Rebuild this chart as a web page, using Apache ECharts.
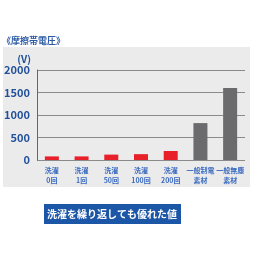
<!DOCTYPE html>
<html>
<head>
<meta charset="utf-8">
<script src="https://cdn.jsdelivr.net/npm/echarts@6/dist/echarts.min.js"></script>
<style>
  html, body { margin: 0; padding: 0; background: #fff; }
  #chart { width: 260px; height: 260px; }
</style>
</head>
<body>
<div id="chart"></div>
<script>
  const categories = ['洗濯\n0回', '洗濯\n1回', '洗濯\n50回', '洗濯\n100回', '洗濯\n200回', '一般制電\n素材', '一般無塵\n素材']
  const values = [80, 80, 120, 130, 200, 820, 1600]
  const barColors = ['#e8202a', '#e8202a', '#e8202a', '#e8202a', '#e8202a', '#6b6b6d', '#6b6b6d']
  const yTicks = [0, 500, 1000, 1500, 2000]

  const chart = echarts.init(document.getElementById('chart'))
  const font = '"Noto Sans CJK JP", "Noto Sans", sans-serif'

  const option = {
    animation: false,
    title: {
      text: '《摩擦帯電圧》',
      left: -3,
      top: 31,
      textStyle: { color: '#2b5aa6', fontSize: 9, fontWeight: 'bold', fontFamily: font }
    },
    graphic: [
      {
        type: 'rect', z: -10,
        shape: { x: 3, y: 47, width: 247, height: 140 },
        style: { fill: '#ebebec' }
      },
      {
        type: 'rect',
        shape: { x: 44, y: 204, width: 137, height: 20 },
        style: { fill: '#1c56a6' }
      },
      {
        type: 'text',
        x: 112, y: 214,
        style: {
          text: '洗濯を繰り返しても優れた値',
          fill: '#fff', font: 'bold 10px ' + font,
          align: 'center', verticalAlign: 'middle'
        }
      }
    ],
    grid: { left: 37, right: 15, top: 70, bottom: 100, containLabel: false },
    xAxis: {
      type: 'category',
      data: categories,
      axisLine: { show: false },
      axisTick: { show: false },
      axisLabel: { color: '#3d6cc0', fontSize: 7, fontWeight: 'bold', fontFamily: font, lineHeight: 10, margin: 5, interval: 0 }
    },
    yAxis: {
      type: 'value',
      min: yTicks[0],
      max: yTicks[yTicks.length - 1],
      interval: 500,
      name: '(V)',
      nameGap: 6,
      nameTextStyle: { color: '#22509a', fontSize: 10, fontWeight: 'bold', fontFamily: font, align: 'right', padding: [0, 6, 0, 0] },
      axisLine: { show: true, lineStyle: { color: '#666', width: 1 } },
      axisTick: { show: false },
      axisLabel: { color: '#22509a', fontSize: 11, fontWeight: 'bold', fontFamily: font, margin: 7, formatter: v => String(v) },
      splitLine: { lineStyle: { color: '#8a8a8a', width: 1 } }
    },
    series: [{
      type: 'bar',
      barWidth: 14,
      data: values.map((v, i) => ({ value: v, itemStyle: { color: barColors[i] } }))
    }]
  }
  chart.setOption(option)
</script>
</body>
</html>
